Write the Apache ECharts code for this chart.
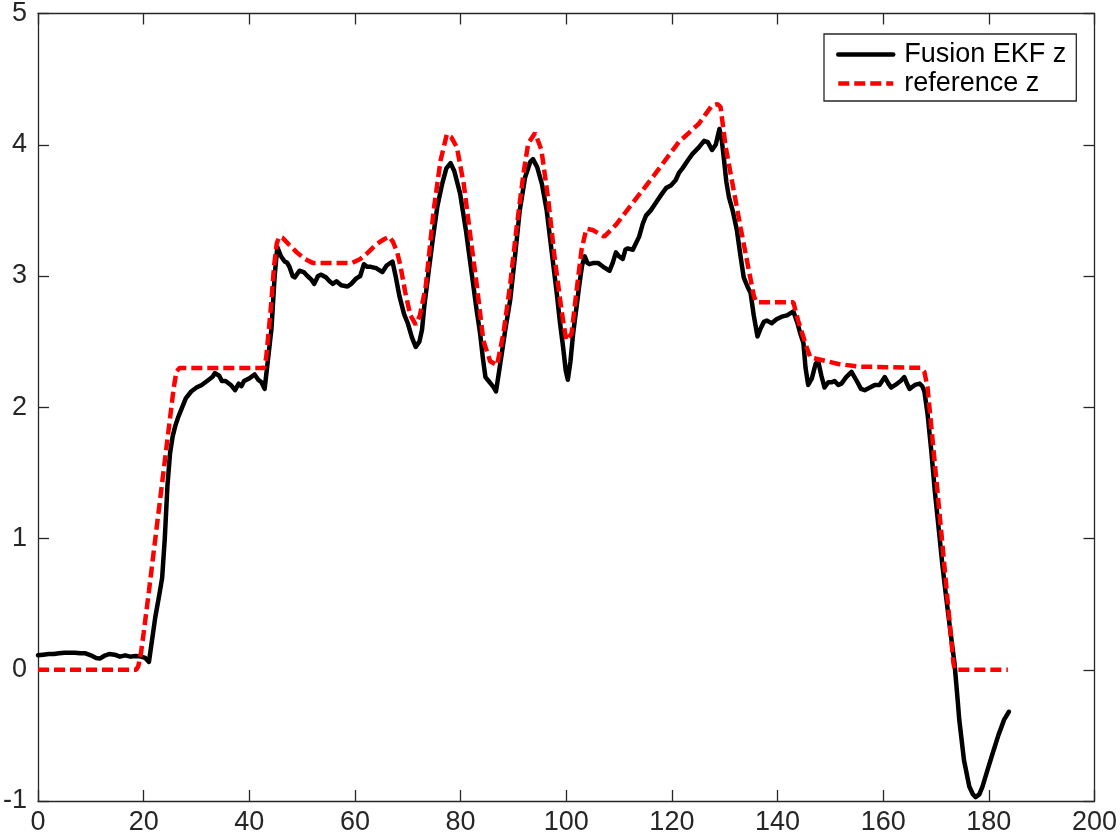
<!DOCTYPE html>
<html>
<head>
<meta charset="utf-8">
<script src="https://cdn.jsdelivr.net/npm/echarts@6/dist/echarts.min.js"></script>
<style>
html,body{margin:0;padding:0;background:#fff;}
#chart{width:1120px;height:840px;}
</style>
</head>
<body>
<div id="chart"></div>
<script>
// Fusion EKF z (time, value)
const fusionT = [0,1,2,3,4,5,6,7,8,9,10,11,11.7,12.5,13.5,14.5,15.5,16.5,17.5,18.5,19.5,20.3,21,21.6,22.2,23,23.5,24,24.5,25,25.5,26,26.5,27,28,29,30,31,32,33,33.5,34.3,34.8,35.5,36.5,37.3,38,38.5,39,40,41,41.7,42.3,42.9,43.5,44.2,44.8,45.3,46,46.7,47.2,47.6,48.2,48.6,49.5,50.3,51,51.8,52.3,53,53.6,54.5,55.2,55.8,56.5,57.4,58.6,59.3,60.2,61,61.7,62.3,63,64,65.2,66,67.1,67.7,68.4,69.3,70,70.8,71.5,72.2,72.7,73.1,74,74.8,75.6,76.5,77.3,78.1,78.8,79.9,81,82.2,83,83.7,84.2,84.7,85.3,85.9,86.3,86.7,87.2,87.8,88.5,89.4,90.3,91.2,92.2,93.2,93.7,94.5,95.4,96.3,97.2,98.2,98.8,99.4,99.9,100.3,100.8,101.3,102,102.5,103,103.5,104,104.4,105.2,106,107,108.2,108.8,109.4,110,110.7,111.2,111.6,112.6,113.2,113.8,114.5,115.1,116,117,118,118.9,119.8,120.7,121.4,122,123,123.9,125.1,126.1,126.8,127.6,128.3,129,129.4,129.8,130.3,130.8,131.5,132.3,133,133.6,134.3,134.9,135.5,136.2,136.8,137.4,138,138.9,139.8,140.8,141.8,143,143.7,144.4,144.9,145.3,145.8,146.5,147.2,147.7,148.3,148.9,149.6,150.2,150.8,151.5,152.1,153,154,155,155.8,156.5,157.5,158.4,159.3,160.3,161,161.5,162.3,163.3,164,164.5,165,166,166.9,167.4,167.8,168.4,169.1,169.8,170.6,171.2,171.9,172.7,173.5,174.1,174.4,175.3,176.3,177,177.5,178.2,178.8,179.7,180.7,181.8,182.9,183.8];
const fusionZ = [0.11,0.115,0.12,0.12,0.125,0.13,0.13,0.13,0.125,0.125,0.11,0.09,0.085,0.105,0.12,0.115,0.10,0.11,0.10,0.105,0.10,0.09,0.06,0.23,0.40,0.58,0.70,1.0,1.4,1.65,1.78,1.86,1.92,1.97,2.07,2.12,2.15,2.17,2.2,2.23,2.26,2.24,2.2,2.2,2.17,2.13,2.18,2.16,2.2,2.22,2.25,2.21,2.19,2.14,2.35,2.6,3.0,3.22,3.15,3.11,3.1,3.07,3.0,2.99,3.04,3.03,3.0,2.97,2.94,3.0,3.01,2.99,2.96,2.94,2.96,2.93,2.92,2.94,2.98,3.0,3.09,3.07,3.07,3.06,3.03,3.08,3.11,3.0,2.85,2.71,2.64,2.53,2.46,2.5,2.59,2.76,3.05,3.3,3.53,3.7,3.82,3.86,3.8,3.63,3.35,2.99,2.75,2.56,2.38,2.23,2.2,2.17,2.15,2.12,2.25,2.41,2.6,2.82,3.15,3.5,3.75,3.87,3.89,3.83,3.7,3.5,3.2,2.87,2.65,2.46,2.28,2.21,2.35,2.56,2.78,2.94,3.08,3.15,3.1,3.09,3.1,3.1,3.07,3.04,3.1,3.18,3.15,3.13,3.2,3.21,3.2,3.25,3.3,3.4,3.46,3.5,3.56,3.62,3.67,3.69,3.73,3.79,3.82,3.88,3.93,3.98,4.03,4.02,3.96,4.0,4.12,4.05,3.91,3.72,3.6,3.5,3.35,3.15,2.99,2.92,2.87,2.7,2.54,2.6,2.65,2.66,2.64,2.67,2.69,2.7,2.73,2.65,2.55,2.49,2.3,2.17,2.22,2.33,2.35,2.24,2.15,2.19,2.19,2.2,2.17,2.18,2.23,2.27,2.2,2.14,2.13,2.15,2.17,2.17,2.23,2.18,2.15,2.17,2.2,2.23,2.18,2.14,2.17,2.18,2.16,2.12,1.95,1.67,1.35,1.04,0.8,0.56,0.3,0.05,-0.23,-0.38,-0.69,-0.89,-0.95,-0.97,-0.95,-0.89,-0.77,-0.64,-0.5,-0.38,-0.32];

// reference z (time, value)
const refT = [0,18.6,19,19.5,20,21,22,23,24,25,25.7,26.2,26.8,42.8,43.2,44,44.7,45.2,45.7,46.3,47.5,49,50.5,52,59.5,61,62.5,64,65.5,66.5,67.2,68,68.6,69.5,70.5,71.5,72.3,73.4,74.9,76.2,77.4,78.2,79.3,80.6,81.8,83.1,84.3,85.6,86.9,88.1,89.4,90.6,91.9,92.8,94.1,95.3,96.6,97.8,99.1,100,101,101.9,102.9,103.8,105,107.2,109.4,116.3,121.3,125.1,127.6,128.6,129.2,130.2,133,135.5,136,143,143.9,145.5,146.2,151.5,155.2,167.2,167.8,168.4,170.3,173.3,173.6,183.6];
const refZ = [0,0,0.03,0.13,0.28,0.6,0.93,1.26,1.59,1.92,2.15,2.27,2.3,2.3,2.38,2.72,3.08,3.25,3.3,3.29,3.24,3.18,3.13,3.1,3.1,3.13,3.18,3.24,3.28,3.3,3.26,3.18,3.08,2.88,2.7,2.63,2.7,2.92,3.5,3.88,4.08,4.06,3.98,3.7,3.32,2.92,2.51,2.35,2.32,2.56,2.94,3.37,3.78,4.01,4.09,3.96,3.58,3.14,2.74,2.51,2.56,2.87,3.2,3.36,3.35,3.3,3.39,3.75,4.02,4.16,4.3,4.31,4.29,3.98,3.37,2.85,2.8,2.8,2.66,2.46,2.38,2.33,2.31,2.3,2.27,2.15,1.35,0.05,0,0];

const seriesNames = ['Fusion EKF z', 'reference z'];
const xTicks = {min: 0, max: 200, interval: 20};
const yTicks = {min: -1, max: 5, interval: 1};

const fusionData = fusionT.map((t, i) => [t, fusionZ[i]]);
const refData = refT.map((t, i) => [t, refZ[i]]);

const axisColor = '#262626';
const font = 'Helvetica, "Liberation Sans", Arial, sans-serif';

const chart = echarts.init(document.getElementById('chart'), null, {renderer: 'canvas'});
const baseAxis = {
  axisLine: {show: true, onZero: false, lineStyle: {color: axisColor, width: 1.3}},
  axisTick: {show: true, inside: true, length: 11, lineStyle: {color: axisColor, width: 1.3}},
  splitLine: {show: false},
  axisLabel: {color: axisColor, fontSize: 27, fontFamily: font}
};
chart.setOption({
  animation: false,
  backgroundColor: '#fff',
  grid: {left: 35, top: 13, right: 22, bottom: 39, containLabel: false},
  xAxis: [
    Object.assign({}, baseAxis, {type: 'value', position: 'bottom', min: xTicks.min, max: xTicks.max, interval: xTicks.interval,
      axisLabel: Object.assign({}, baseAxis.axisLabel, {margin: 8})}),
    Object.assign({}, baseAxis, {type: 'value', position: 'top', min: xTicks.min, max: xTicks.max, interval: xTicks.interval,
      axisLabel: {show: false}})
  ],
  yAxis: [
    Object.assign({}, baseAxis, {type: 'value', position: 'left', min: yTicks.min, max: yTicks.max, interval: yTicks.interval,
      axisLabel: Object.assign({}, baseAxis.axisLabel, {margin: 11})}),
    Object.assign({}, baseAxis, {type: 'value', position: 'right', min: yTicks.min, max: yTicks.max, interval: yTicks.interval,
      axisLabel: {show: false}})
  ],
  legend: {
    show: true,
    selectedMode: false,
    orient: 'vertical',
    left: 824,
    top: 34,
    padding: [7, 10, 4, 12],
    itemGap: 2,
    itemWidth: 55,
    itemHeight: 27,
    borderColor: axisColor,
    borderWidth: 1.3,
    backgroundColor: '#fff',
    itemStyle: {opacity: 0},
    lineStyle: {width: 4.5},
    textStyle: {color: '#000', fontSize: 27, lineHeight: 27, fontFamily: font, padding: [0, 0, 0, 6]},
    data: seriesNames
  },
  series: [
    {
      name: seriesNames[0], type: 'line', data: fusionData, showSymbol: false, symbol: 'none',
      smooth: false, z: 3,
      lineStyle: {color: '#000', width: 4.5, join: 'round', cap: 'round'},
      itemStyle: {color: '#000'}
    },
    {
      name: seriesNames[1], type: 'line', data: refData, showSymbol: false, symbol: 'none',
      smooth: false, z: 4,
      lineStyle: {color: '#ff0000', width: 4.5, type: [11, 5]},
      itemStyle: {color: '#ff0000'}
    }
  ]
});
</script>
</body>
</html>
